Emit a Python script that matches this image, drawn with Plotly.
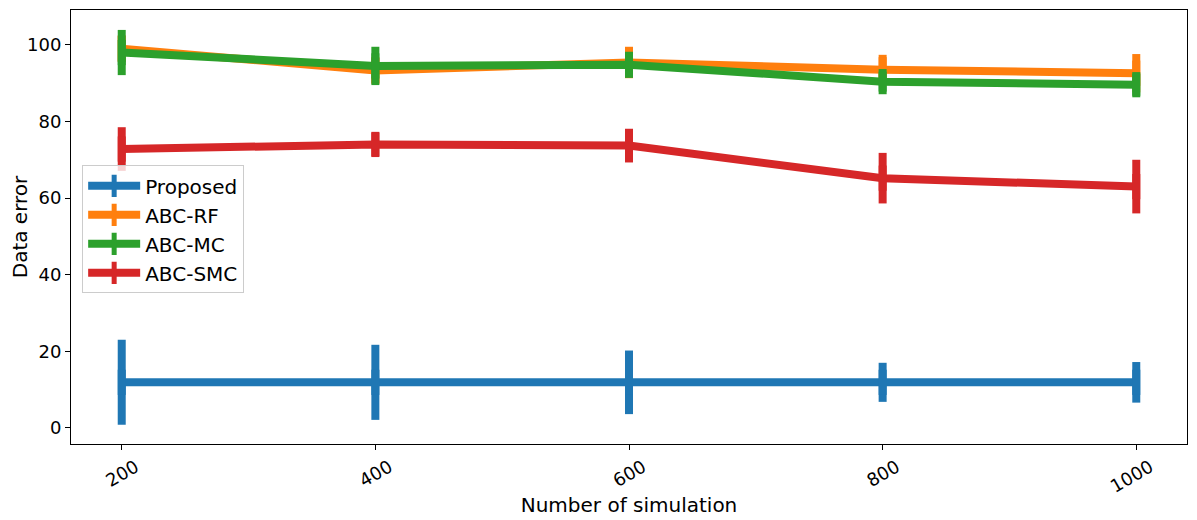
import plotly.graph_objects as go

sims = [200, 400, 600, 800, 1000]

proposed = [11.9, 11.9, 11.9, 11.9, 11.9]
proposed_err = [11.1, 9.8, 8.3, 5.1, 5.3]

abc_rf = [99.0, 93.3, 95.4, 93.5, 92.6]
abc_rf_err = [3.5, 3.5, 4.1, 3.9, 5.0]

abc_mc = [98.0, 94.5, 94.8, 90.4, 89.6]
abc_mc_err = [5.9, 5.0, 3.4, 2.6, 2.9]

abc_smc = [72.8, 74.0, 73.7, 65.2, 63.0]
abc_smc_err = [5.7, 3.1, 4.4, 6.6, 7.0]

series = [
    ("Proposed", proposed, proposed_err, "#1f77b4"),
    ("ABC-RF", abc_rf, abc_rf_err, "#ff7f0e"),
    ("ABC-MC", abc_mc, abc_mc_err, "#2ca02c"),
    ("ABC-SMC", abc_smc, abc_smc_err, "#d62728"),
]

fig = go.Figure()
for name, vals, errs, color in series:
    # the short vertical marker sits inside the error bar; it gives the legend its cross
    fig.add_trace(go.Scatter(
        x=sims, y=vals, name=name, mode="lines+markers",
        line=dict(color=color, width=8),
        marker=dict(symbol="line-ns", size=18, color=color,
                    line=dict(color=color, width=8)),
        error_y=dict(type="data", array=errs, color=color, thickness=8, width=0),
    ))

axis_style = dict(
    showline=True, linecolor="black", linewidth=1, mirror=True,
    ticks="outside", ticklen=5, tickcolor="black",
    showgrid=False, zeroline=False, automargin=False,
    tickfont=dict(size=18, color="black"),
)

fig.update_xaxes(
    range=[160, 1040], tickvals=sims, tickangle=-30, ticklabelshift=14,
    title=dict(text="Number of simulation", font=dict(size=20, color="black"), standoff=2),
    **axis_style,
)
fig.update_yaxes(
    range=[-4.2, 109.1], tickvals=[0, 20, 40, 60, 80, 100],
    title=dict(text="Data error", font=dict(size=20, color="black"), standoff=15),
    **axis_style,
)

# the page body adds an 8px offset, so the figure is sized to fit what is left
fig.update_layout(
    width=1189, height=512,
    margin=dict(l=63, r=10, t=2, b=76),
    plot_bgcolor="white", paper_bgcolor="white",
    font=dict(family="DejaVu Sans", color="black"),
    legend=dict(
        x=0.01, y=0.642, xanchor="left", yanchor="top",
        font=dict(size=20), bgcolor="rgba(255,255,255,0.8)",
        bordercolor="#cccccc", borderwidth=1, itemwidth=52,
        tracegroupgap=0,
    ),
)

fig.write_html("out.html")
